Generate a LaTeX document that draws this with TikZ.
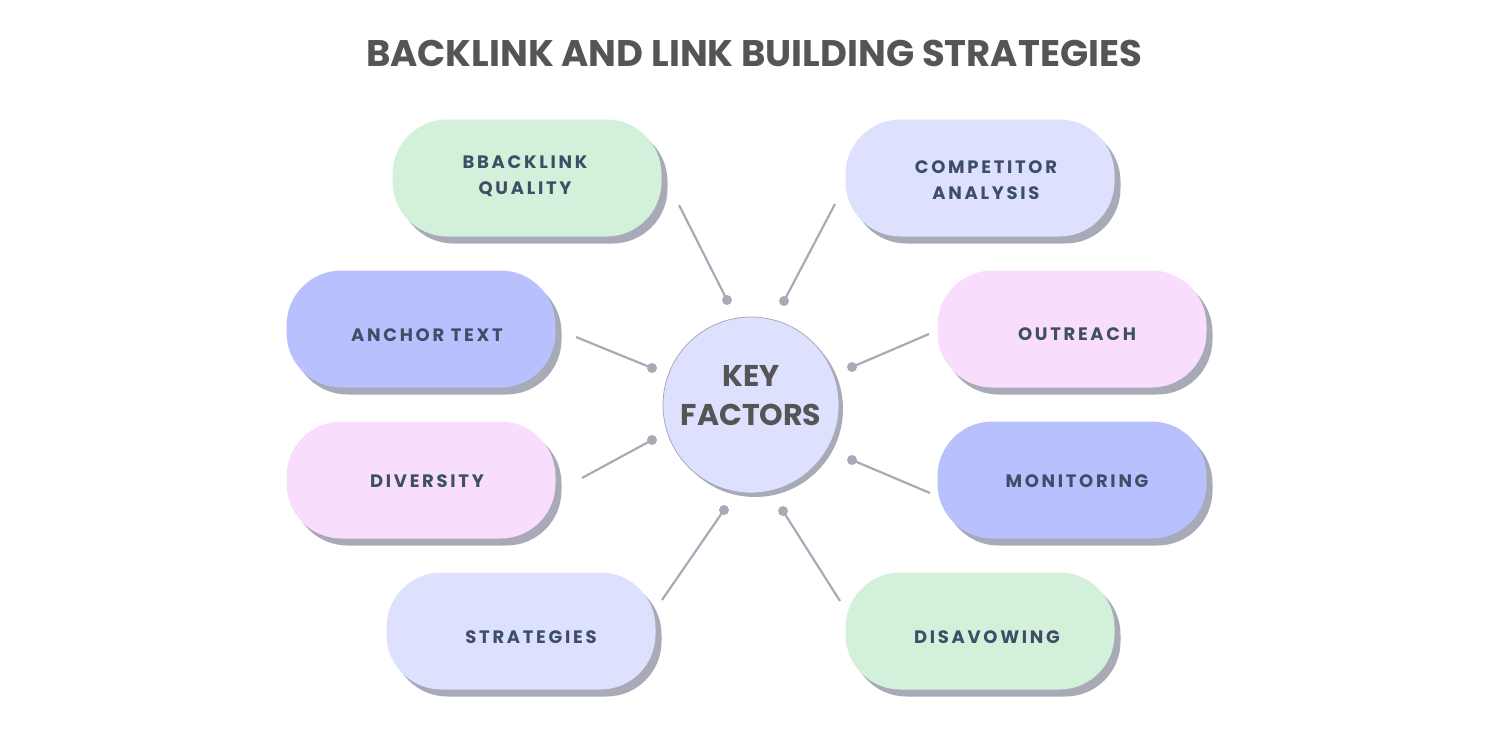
\documentclass[tikz,border=0pt]{standalone}
\usepackage{fontspec}
\setmainfont{Poppins}
\newfontfamily\pillfont[LetterSpace=15]{Poppins Bold}
\newfontfamily\titlefont{Poppins Bold}
\usetikzlibrary{shadows}
\definecolor{cgreen}{HTML}{D3F0DA}
\definecolor{clav}{HTML}{DDE1FE}
\definecolor{cblue}{HTML}{B8C1FE}
\definecolor{cpink}{HTML}{F8DEFC}
\definecolor{cshadow}{HTML}{A8AAB8}
\definecolor{ctext}{HTML}{3D4F66}
\definecolor{ctitle}{HTML}{555555}
\definecolor{cline}{HTML}{A9AAB8}
\tikzset{
  pill/.style={rounded corners=55pt, minimum width=269pt, minimum height=117pt, inner sep=0pt,
    drop shadow={shadow xshift=6pt, shadow yshift=-7pt, fill=cshadow, opacity=1}},
  pilltext/.style={align=center, text=ctext, font=\pillfont\fontsize{18}{26}\selectfont, inner sep=0pt},
  hub/.style={circle, minimum size=176pt, inner sep=0pt, fill=clav, draw=cshadow, line width=0.8pt,
    drop shadow={shadow xshift=4pt, shadow yshift=-4pt, fill=cshadow, opacity=1}},
  hubtext/.style={align=center, text=ctitle, font=\titlefont\fontsize{30}{39}\selectfont, inner sep=0pt},
  dot/.style={circle, fill=cline, minimum size=10pt, inner sep=0pt},
  link/.style={draw=cline, line width=2.2pt}
}
\begin{document}
\begin{tikzpicture}[x=1pt,y=-1pt]
\useasboundingbox (0,0) rectangle (1500,750);
\fill[white] (0,0) rectangle (1500,750);
\node[text=ctitle, font=\titlefont\fontsize{37}{40}\selectfont] (title) at (754,53) {BACKLINK AND LINK BUILDING STRATEGIES};

\node[hub] (hub) at (751,405) {};
\node[hubtext] (hubt) at (751,396) {KEY\\FACTORS};

\node[pill, fill=cgreen] (p1) at (527,178) {};
\node[pill, fill=clav] (p2) at (980,178) {};
\node[pill, fill=cblue] (p3) at (421,329) {};
\node[pill, fill=cpink] (p4) at (1072,329) {};
\node[pill, fill=cpink] (p5) at (421,480) {};
\node[pill, fill=cblue] (p6) at (1072,480) {};
\node[pill, fill=clav] (p7) at (521,631) {};
\node[pill, fill=cgreen] (p8) at (980,631) {};

\node[pilltext] (t1) at (525,176) {BBACKLINK\\QUALITY};
\node[pilltext] (t2) at (986,180) {COMPETITOR\\ANALYSIS};
\node[pilltext] (t3) at (427,335) {ANCHOR TEXT};
\node[pilltext] (t4) at (1077,334) {OUTREACH};
\node[pilltext] (t5) at (427,481) {DIVERSITY};
\node[pilltext] (t6) at (1077,481) {MONITORING};
\node[pilltext] (t7) at (531,637) {STRATEGIES};
\node[pilltext] (t8) at (987,637) {DISAVOWING};

\coordinate (e1) at (679,205);
\coordinate (e2) at (835,204);
\coordinate (e3) at (576,337);
\coordinate (e4) at (929,334);
\coordinate (e5) at (582,478);
\coordinate (e6) at (930,493);
\coordinate (e7) at (662,600);
\coordinate (e8) at (840,601);

\node[dot] (d1) at (727,300) {};
\node[dot] (d2) at (784,301) {};
\node[dot] (d3) at (652,368) {};
\node[dot] (d4) at (852,367) {};
\node[dot] (d5) at (652,440) {};
\node[dot] (d6) at (852,460) {};
\node[dot] (d7) at (724,510) {};
\node[dot] (d8) at (783,511) {};

\foreach \i in {1,...,8} { \draw[link] (e\i) -- (d\i.center); }
\end{tikzpicture}
\end{document}
